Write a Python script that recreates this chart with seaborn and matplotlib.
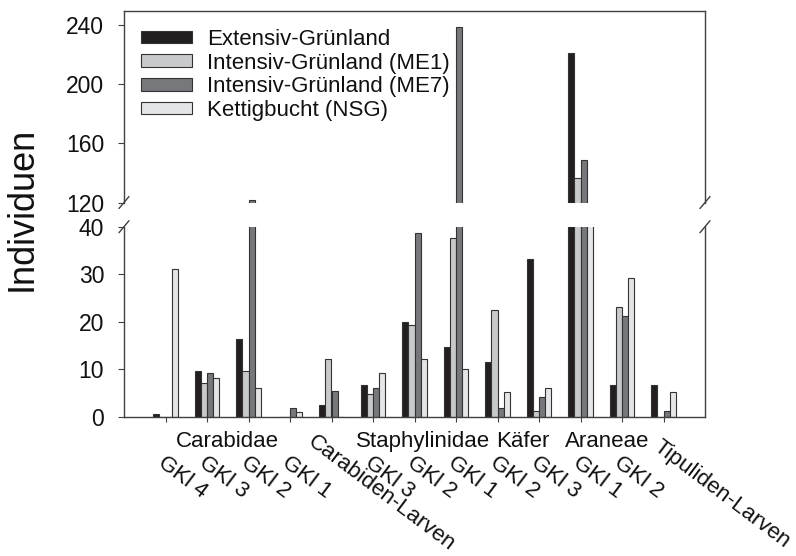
import matplotlib
matplotlib.use("Agg")
import matplotlib.pyplot as plt
import seaborn as sns
import pandas as pd
import numpy as np

# ---------------- data ----------------
categories = ['Carabidae GKl 4', 'Carabidae GKl 3', 'Carabidae GKl 2', 'Carabidae GKl 1',
              'Carabiden-Larven', 'Staphylinidae GKl 3', 'Staphylinidae GKl 2',
              'Staphylinidae GKl 1', 'Käfer GKl 2', 'Käfer GKl 3', 'Araneae GKl 1',
              'Araneae GKl 2', 'Tipuliden-Larven']
tick_labels = ['GKl 4', 'GKl 3', 'GKl 2', 'GKl 1', 'Carabiden-Larven', 'GKl 3', 'GKl 2',
               'GKl 1', 'GKl 2', 'GKl 3', 'GKl 1', 'GKl 2', 'Tipuliden-Larven']
series_names = ['Extensiv-Grünland', 'Intensiv-Grünland (ME1)',
                'Intensiv-Grünland (ME7)', 'Kettigbucht (NSG)']
extensiv = [0.6, 9.7, 16.4, 0, 2.4, 6.7, 20.0, 14.6, 11.5, 33.3, 221, 6.7, 6.7]
me1 = [0, 7.2, 9.7, 0, 12.1, 4.8, 19.3, 37.6, 22.4, 1.2, 136.5, 23.0, 0]
me7 = [0, 9.1, 122, 1.8, 5.5, 6.0, 38.7, 239, 1.8, 4.2, 148.5, 21.2, 1.2]
nsg = [31.2, 8.1, 6.0, 1.0, 0, 9.1, 12.1, 10.0, 5.1, 6.0, 90, 29.3, 5.1]
group_labels = ['Carabidae', 'Staphylinidae', 'Käfer', 'Araneae']
group_label_pos = [1.5, 6.2, 8.6, 10.65]
colors = ['#231f20', '#c8c9cb', '#77787b', '#e4e5e6']

df = pd.DataFrame({
    'Kategorie': categories * 4,
    'Standort': sum([[s] * len(categories) for s in series_names], []),
    'Individuen': extensiv + me1 + me7 + nsg,
})
palette = dict(zip(series_names, colors))

# ---------------- style ----------------
sns.set_style('ticks')
plt.rcParams['font.family'] = ['Liberation Sans', 'DejaVu Sans']
spine_col = '#404040'
txt_col = '#111111'

fig = plt.figure(figsize=(7.96, 5.56), dpi=100)
W, H = 796, 556
left, width = 124 / W, 581 / W
ax_top = fig.add_axes([left, 1 - 202.5 / H, width, 191.8 / H])
ax_bot = fig.add_axes([left, 1 - 416.7 / H, width, 190 / H])

for ax in (ax_top, ax_bot):
    sns.barplot(data=df, x='Kategorie', y='Individuen', hue='Standort',
                hue_order=series_names, order=categories, palette=palette,
                width=0.59, saturation=1, edgecolor='#333333', linewidth=0.8,
                ax=ax, legend=(ax is ax_top))
    ax.set_xlim(-1, 13)
    ax.set_xlabel('')
    ax.set_ylabel('')
    for s in ax.spines.values():
        s.set_color(spine_col)
        s.set_linewidth(1.0)
    ax.tick_params(axis='y', direction='out', length=4.3, width=0.8, color=spine_col,
                   pad=10.0, labelsize=16.5, labelcolor=txt_col)

ax_top.set_ylim(120, 250)
ax_top.set_yticks([120, 160, 200, 240])
ax_top.spines['bottom'].set_visible(False)
ax_top.tick_params(axis='x', bottom=False, labelbottom=False)

ax_bot.set_ylim(0, 40)
ax_bot.set_yticks([0, 10, 20, 30, 40])
ax_bot.spines['top'].set_visible(False)
ax_bot.set_xticks(range(len(categories)))
ax_bot.set_xticklabels([])
ax_bot.tick_params(axis='x', direction='out', length=3.6, width=0.8, color=spine_col)

# legend
handles, labels = ax_top.get_legend_handles_labels()
ax_top.legend(handles, labels, loc='upper left', bbox_to_anchor=(0.029, 0.905),
              frameon=False, fontsize=16, handlelength=2.3, handleheight=0.5,
              handletextpad=0.68, labelspacing=0.12, borderpad=0, borderaxespad=0,
              labelcolor=txt_col)

# break marks
def slashes(ax, y, hpx):
    dx = 5 / 581
    dy = 6 / hpx
    kw = dict(transform=ax.transAxes, color=spine_col, lw=1.0, clip_on=False)
    ax.plot([-dx, dx], [y - dy, y + dy], **kw)
    ax.plot([1 - dx, 1 + dx], [y - dy, y + dy], **kw)

slashes(ax_top, 0, 191.8)
slashes(ax_bot, 1, 190)

# rotated x labels
xt = ax_bot.get_xaxis_transform()
for i, lab in enumerate(tick_labels):
    if lab == 'Carabiden-Larven':
        off = (-15, -15)
    elif lab == 'Tipuliden-Larven':
        off = (-1, -20)
    else:
        off = (1, -36)
    ax_bot.annotate(lab, xy=(i, 0), xycoords=xt, xytext=off, textcoords='offset pixels',
                    rotation=-37, rotation_mode='anchor', ha='left', va='top',
                    fontsize=16, color=txt_col, annotation_clip=False)

for lab, xp in zip(group_labels, group_label_pos):
    ax_bot.annotate(lab, xy=(xp, 0), xycoords=xt, xytext=(0, -30), textcoords='offset pixels',
                    ha='center', va='baseline', fontsize=16, color=txt_col,
                    annotation_clip=False)

fig.text(22.5 / W, 1 - 209 / H, 'Individuen', rotation=90, ha='center', va='center',
         fontsize=26, color=txt_col)

fig.savefig('out.png', dpi=100)
